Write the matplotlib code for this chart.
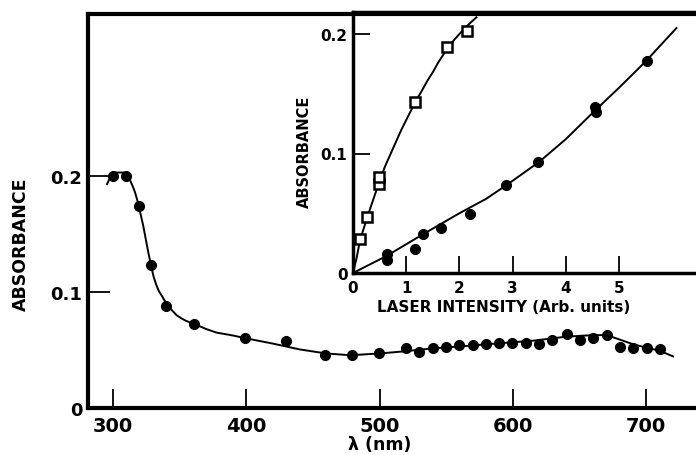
import numpy as np
import matplotlib
matplotlib.use('Agg')
from matplotlib import pyplot as plt

# main spectrum: measured points
wl_pts = [300, 310, 319.5, 328.7, 340, 360.7, 399, 430, 459, 479, 499.5, 519.8, 529.8,
          540, 550, 559.7, 569.7, 579.5, 589.5, 599.5, 609.5, 619.5, 629.5, 640.3,
          650.3, 660.3, 670.3, 680.3, 690.3, 700.3, 710.3]
abs_pts = [0.200, 0.200, 0.174, 0.1235, 0.088, 0.072, 0.060, 0.058, 0.046, 0.046, 0.047,
           0.0514, 0.048, 0.0514, 0.053, 0.0543, 0.0546, 0.055, 0.0558, 0.0563, 0.0558,
           0.0555, 0.0589, 0.0638, 0.0589, 0.060, 0.063, 0.053, 0.052, 0.052, 0.051]

# main spectrum: drawn curve
wl_curve = [295.5, 298, 302, 308, 310.5, 312.5, 314.5, 316.5, 318.5, 320.5, 322.7, 324.5,
            326.5, 328.5, 330.5, 332.5, 334.5, 336.5, 338.5, 341, 344, 347.7, 351, 355,
            362, 370, 377.7, 390, 400, 420, 440, 460, 478, 500, 516, 540, 565, 590, 615,
            640, 655, 670, 680, 690, 700, 710, 720]
abs_curve = [0.193, 0.199, 0.203, 0.203, 0.201, 0.197, 0.192, 0.186, 0.178, 0.168, 0.157,
             0.146, 0.134, 0.123, 0.113, 0.106, 0.1005, 0.097, 0.093, 0.089, 0.0845, 0.080,
             0.0775, 0.075, 0.072, 0.068, 0.065, 0.0625, 0.060, 0.0555, 0.0505, 0.047,
             0.0455, 0.047, 0.0486, 0.0514, 0.0535, 0.0558, 0.058, 0.0615, 0.0625, 0.063,
             0.059, 0.055, 0.052, 0.0494, 0.0445]

# inset: open squares
sq_int = [0.13, 0.27, 0.49, 0.49, 1.165, 1.76, 2.15]
sq_abs = [0.0285, 0.0466, 0.0745, 0.080, 0.1434, 0.189, 0.2022]
sq_curve_int = [0, 0.07, 0.13, 0.27, 0.4, 0.5, 0.6, 0.7, 0.8, 0.9, 1.0, 1.17, 1.3, 1.4,
                1.5, 1.6, 1.76, 1.9, 2.0, 2.15, 2.32]
sq_curve_abs = [0, 0.013, 0.027, 0.047, 0.064, 0.077, 0.089, 0.099, 0.109, 0.119, 0.128,
                0.143, 0.153, 0.161, 0.168, 0.176, 0.187, 0.195, 0.200, 0.207, 0.214]

# inset: filled circles
ci_int = [0.63, 0.63, 1.165, 1.31, 1.65, 2.2, 2.876, 3.48, 4.55, 4.56, 5.52]
ci_abs = [0.0159, 0.0105, 0.0205, 0.0326, 0.038, 0.049, 0.0736, 0.0926, 0.1386, 0.1345, 0.1777]
ci_curve_int = [0, 0.62, 1.3, 2.0, 2.5, 2.9, 3.5, 4.0, 4.55, 5.0, 5.5, 6.08]
ci_curve_abs = [0, 0.014, 0.032, 0.050, 0.062, 0.074, 0.093, 0.112, 0.136, 0.155, 0.177, 0.205]

W, H = 696, 456
fig = plt.figure(figsize=(W / 100, H / 100), dpi=100)
fw = dict(family='DejaVu Sans', weight='bold')

# main axes
ax = fig.add_axes([88 / W, 47 / H, 612 / W, 394 / H])
ax.plot(wl_curve, abs_curve, color='black', lw=1.4)
ax.plot(wl_pts, abs_pts, 'o', color='black', ms=7)
ax.set_xlim(281.25, 740.25)
ax.set_ylim(0, 394 / 1160)
ax.set_xticks([300, 400, 500, 600, 700])
ax.set_xticklabels(['300', '400', '500', '600', '700'], fontsize=14, **fw)
ax.set_yticks([0, 0.1, 0.2])
ax.set_yticklabels(['0', '0.1', '0.2'], fontsize=13, **fw)
ax.tick_params(axis='x', direction='in', length=14, width=1.3, pad=6)
ax.tick_params(axis='y', direction='in', length=16, width=1.3, pad=4)
for s in ['left', 'bottom', 'top']:
    ax.spines[s].set_linewidth(3)
ax.spines['right'].set_visible(False)
fig.text(21 / W, 1 - 244 / H, 'ABSORBANCE', rotation=90, ha='center', va='center',
         fontsize=12.5, **fw)
fig.text(380 / W, 1 - 445 / H, 'λ (nm)', ha='center', va='center', fontsize=12.5, **fw)

# inset
ins = fig.add_axes([353 / W, 182 / H, 341 / W, 261 / H])
ins.set_facecolor('none')
ins.plot(sq_curve_int, sq_curve_abs, color='black', lw=1.4)
ins.plot(ci_curve_int, ci_curve_abs, color='black', lw=1.4)
ins.plot(sq_int, sq_abs, 's', mfc='white', mec='black', mew=1.8, ms=6.5)
ins.plot(ci_int, ci_abs, 'o', color='black', ms=7)
ins.set_xlim(0, 341 / 53.2)
ins.set_ylim(0, 261 / 1195)
ins.set_xticks([0, 1, 2, 3, 4, 5])
ins.set_xticklabels(['0', '1', '2', '3', '4', '5'], fontsize=11, **fw)
ins.set_yticks([0, 0.1, 0.2])
ins.set_yticklabels(['0', '0.1', '0.2'], fontsize=11, **fw)
ins.tick_params(axis='x', direction='in', length=12, width=1.3, pad=5)
ins.tick_params(axis='y', direction='in', length=12, width=1.3, pad=4)
for s in ['left', 'bottom', 'top']:
    ins.spines[s].set_linewidth(2.5)
ins.spines['right'].set_visible(False)
fig.text(304 / W, 1 - 152 / H, 'ABSORBANCE', rotation=90, ha='center', va='center',
         fontsize=10.5, **fw)
fig.text(504 / W, 1 - 307 / H, 'LASER INTENSITY (Arb. units)', ha='center', va='center',
         fontsize=11, **fw)

fig.savefig('out.png', dpi=100)
